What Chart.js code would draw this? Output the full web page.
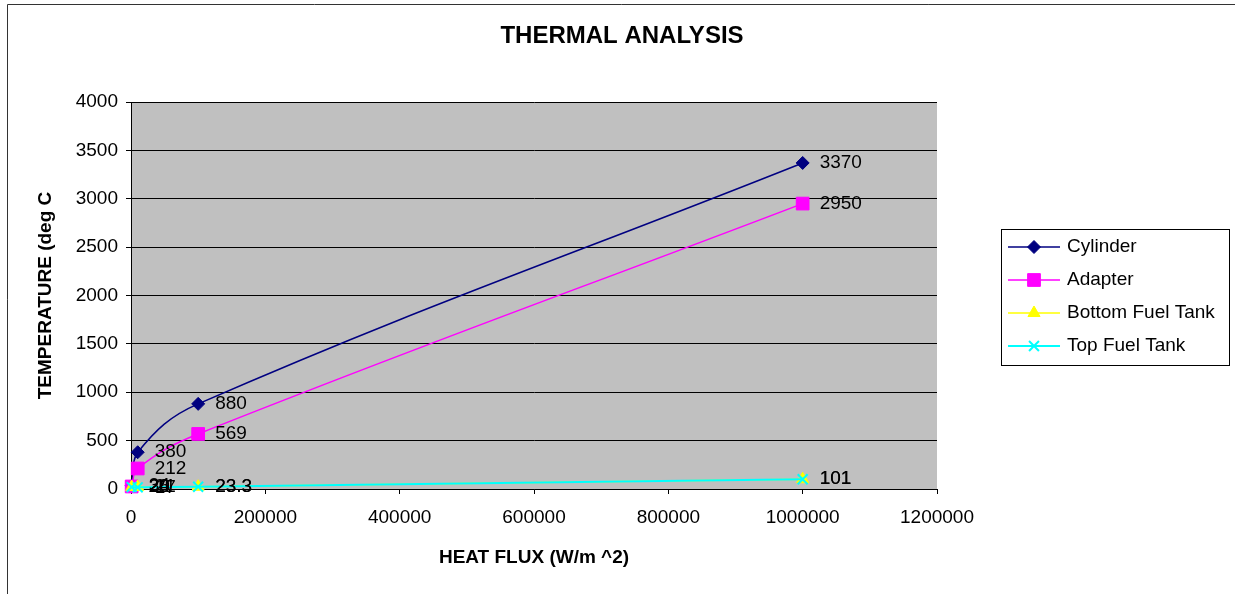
<!DOCTYPE html>
<html>
<head>
<meta charset="utf-8">
<title>Thermal Analysis</title>
<script src="https://cdn.jsdelivr.net/npm/chart.js@4.4.1/dist/chart.umd.min.js"></script>
<style>
  html, body { margin: 0; padding: 0; background: #fff; }
  #chart { display: block; }
</style>
</head>
<body>
<canvas id="chart" width="1235" height="594"></canvas>
<script>
// values
const heatFlux = [1000, 10000, 100000, 1000000];
const seriesNames = ["Cylinder", "Adapter", "Bottom Fuel Tank", "Top Fuel Tank"];
const cylinder = [34, 380, 880, 3370];
const adapter = [26, 212, 569, 2950];
const bottomTank = [20, 21, 23.3, 101];
const topTank = [20, 17, 23.3, 101];
const xTicks = [0, 200000, 400000, 600000, 800000, 1000000, 1200000];
const yTicks = [0, 500, 1000, 1500, 2000, 2500, 3000, 3500, 4000];
const chartTitle = "THERMAL ANALYSIS";

const FONT = "'Liberation Sans', Arial, sans-serif";
Chart.defaults.font.family = FONT;
Chart.defaults.color = "#000";

const pts = (ys) => heatFlux.map((x, i) => ({ x: x, y: ys[i] }));

const styles = [
  { color: "#000080", pointStyle: "rectRot", radius: 6.5, width: 1.5 },
  { color: "#ff00ff", pointStyle: "rect", radius: 9, width: 1.5 },
  { color: "#ffff00", pointStyle: "triangle", radius: 7, width: 1.5 },
  { color: "#00ffff", pointStyle: "crossRot", radius: 7, width: 2 },
];

const datasets = [cylinder, adapter, bottomTank, topTank].map((ys, i) => ({
  label: seriesNames[i],
  data: pts(ys),
  borderColor: styles[i].color,
  backgroundColor: styles[i].color,
  borderWidth: styles[i].width,
  pointStyle: styles[i].pointStyle,
  pointRadius: styles[i].radius,
  pointBorderWidth: i === 3 ? 2 : 1,
  pointBorderColor: styles[i].color,
  pointBackgroundColor: styles[i].color,
  tension: 0.4,
  clip: false,
  order: 3 - i,
}));

// grey plot area, outer frame and the title (centred on the whole frame)
const plotBg = {
  id: "plotBg",
  beforeDraw(chart) {
    const { ctx, chartArea: a } = chart;
    ctx.save();
    ctx.fillStyle = "#c0c0c0";
    ctx.fillRect(a.left, a.top, a.right - a.left, a.bottom - a.top);
    ctx.restore();
  },
  afterDraw(chart) {
    const ctx = chart.ctx;
    ctx.save();
    ctx.strokeStyle = "#333";
    ctx.lineWidth = 1;
    ctx.beginPath();
    ctx.moveTo(7.5, chart.height);
    ctx.lineTo(7.5, 4.5);
    ctx.lineTo(chart.width, 4.5);
    ctx.stroke();
    ctx.font = "bold 24px " + FONT;
    ctx.fillStyle = "#000";
    ctx.textAlign = "center";
    ctx.textBaseline = "middle";
    ctx.fillText(chartTitle, 622, 36);
    ctx.restore();
  }
};

// value next to each point
const pointLabels = {
  id: "pointLabels",
  afterDatasetsDraw(chart) {
    const ctx = chart.ctx;
    ctx.save();
    ctx.font = "19px " + FONT;
    ctx.fillStyle = "#000";
    ctx.textBaseline = "middle";
    ctx.textAlign = "left";
    chart.data.datasets.forEach((ds, i) => {
      chart.getDatasetMeta(i).data.forEach((p, j) => {
        ctx.fillText(String(ds.data[j].y), p.x + 17, p.y);
      });
    });
    ctx.restore();
  }
};

// excel style legend box
const boxLegend = {
  id: "boxLegend",
  afterDraw(chart) {
    const ctx = chart.ctx;
    const x0 = 1001, y0 = 229, w = 228, h = 136;
    ctx.save();
    ctx.fillStyle = "#fff";
    ctx.fillRect(x0, y0, w, h);
    ctx.strokeStyle = "#000";
    ctx.lineWidth = 1;
    ctx.strokeRect(x0 + 0.5, y0 + 0.5, w, h);
    ctx.font = "19px " + FONT;
    ctx.textBaseline = "middle";
    chart.data.datasets.forEach((ds, i) => {
      const y = 247 + i * 33;
      ctx.strokeStyle = ds.borderColor;
      ctx.lineWidth = ds.borderWidth;
      ctx.beginPath();
      ctx.moveTo(1008, y);
      ctx.lineTo(1060, y);
      ctx.stroke();
      ctx.fillStyle = ds.pointBackgroundColor;
      ctx.strokeStyle = ds.pointBorderColor;
      ctx.lineWidth = ds.pointBorderWidth;
      Chart.helpers.drawPoint(ctx, {
        pointStyle: ds.pointStyle,
        radius: ds.pointRadius,
        borderWidth: ds.pointBorderWidth,
        rotation: 0
      }, 1034, y);
      ctx.fillStyle = "#000";
      ctx.fillText(ds.label, 1067, y);
    });
    ctx.restore();
  }
};

new Chart(document.getElementById("chart"), {
  type: "line",
  data: { datasets: datasets },
  plugins: [plotBg, pointLabels, boxLegend],
  options: {
    responsive: false,
    animation: false,
    devicePixelRatio: 1,
    layout: { padding: { left: 0, right: 298, top: 102, bottom: 0 } },
    plugins: {
      legend: { display: false },
      tooltip: { enabled: false },
      title: { display: false }
    },
    scales: {
      x: {
        type: "linear",
        min: 0,
        max: 1200000,
        afterBuildTicks: (s) => { s.ticks = xTicks.map((v) => ({ value: v })); },
        afterFit: (s) => { s.height = 105; },
        ticks: {
          font: { size: 19 },
          color: "#000",
          padding: 12,
          maxRotation: 0,
          callback: (v) => String(v)
        },
        grid: { drawOnChartArea: false, drawTicks: true, tickLength: 5, color: "#000" },
        border: { color: "#000", width: 1 },
        title: {
          display: true,
          text: "HEAT FLUX (W/m ^2)",
          font: { size: 19, weight: "bold" },
          color: "#000",
          padding: { top: 0, bottom: 25 }
        }
      },
      y: {
        min: 0,
        max: 4000,
        afterBuildTicks: (s) => { s.ticks = yTicks.map((v) => ({ value: v })); },
        afterFit: (s) => { s.width = 131; },
        ticks: {
          font: { size: 19 },
          color: "#000",
          padding: 8,
          callback: (v) => String(v)
        },
        grid: { color: "#000", lineWidth: 1, tickLength: 5 },
        border: { color: "#000", width: 1 },
        title: {
          display: true,
          text: "TEMPERATURE (deg C",
          font: { size: 19, weight: "bold" },
          color: "#000",
          padding: { top: 34, bottom: 0 }
        }
      }
    }
  }
});
</script>
</body>
</html>
